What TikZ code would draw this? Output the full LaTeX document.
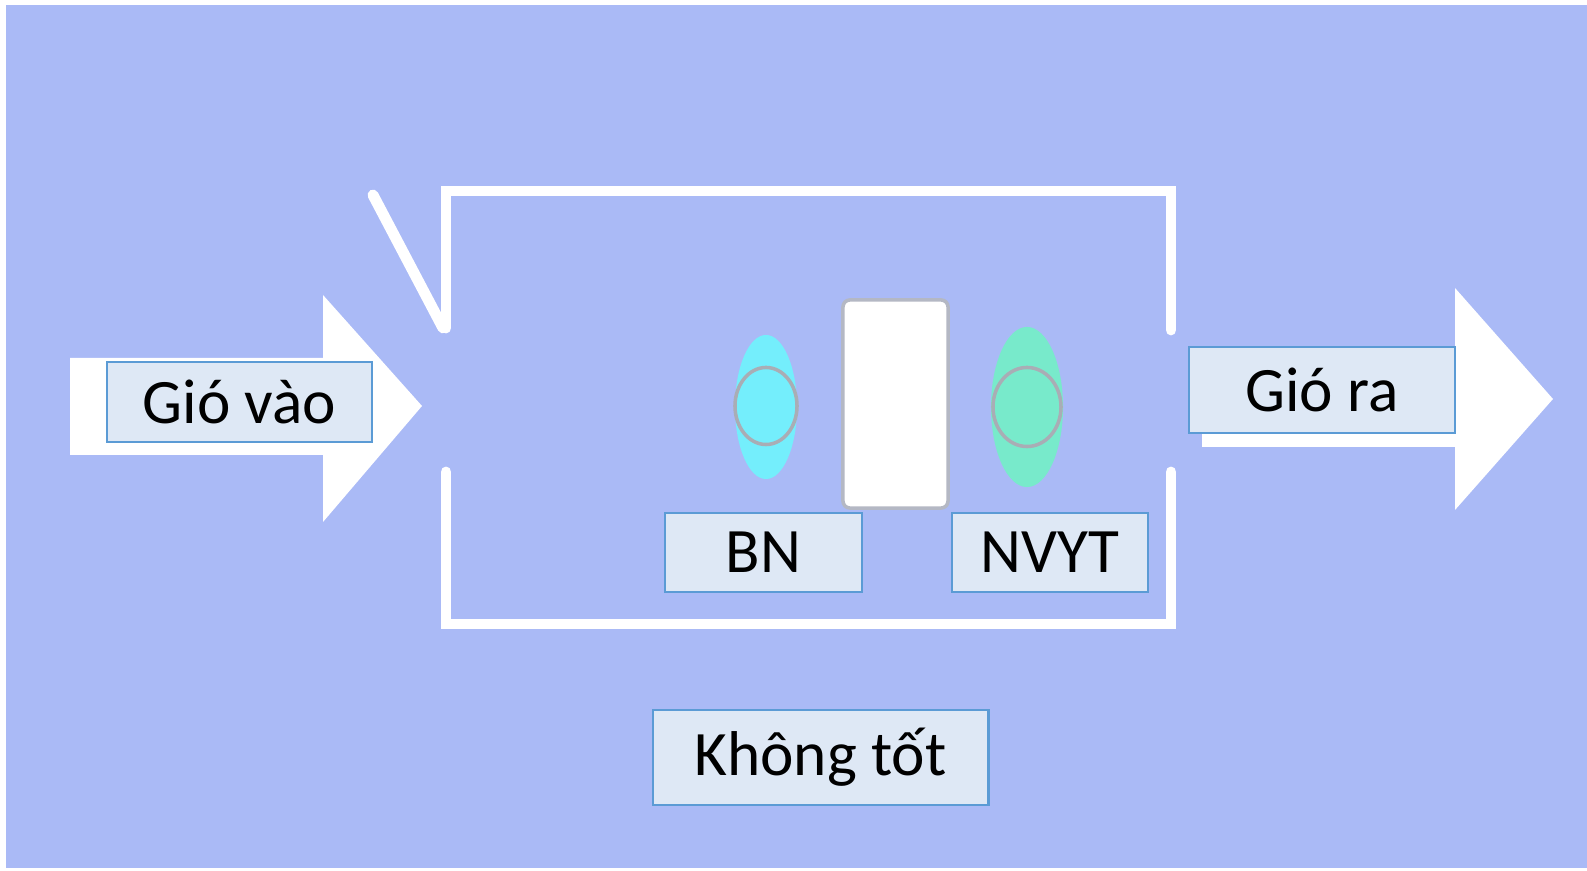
\documentclass[tikz,border=0pt]{standalone}
\usepackage{fontspec}
\setmainfont{Carlito}
\usetikzlibrary{shapes.geometric}
\definecolor{bg}{HTML}{AABAF6}
\definecolor{lblfill}{HTML}{DEE8F5}
\definecolor{lblborder}{HTML}{5B9BD5}
\definecolor{bnfill}{HTML}{74EEFC}
\definecolor{nvfill}{HTML}{78EACB}
\definecolor{headline}{HTML}{A9ADB5}
\definecolor{doorline}{HTML}{B4B8C4}
\tikzset{
  lbl/.style={draw=lblborder, fill=lblfill, line width=0.8pt, inner sep=0pt,
    font=\fontsize{18}{21}\selectfont, text=black},
  wall/.style={white, line width=3.1pt, line cap=round},
  body/.style={ellipse, inner sep=0pt, draw=none},
  head/.style={ellipse, inner sep=0pt, draw=headline, line width=1pt},
}
\begin{document}
\begin{tikzpicture}[x=0.01cm,y=-0.01cm]
\useasboundingbox (0,0) rectangle (1587,871);
\fill[white] (0,0) rectangle (1587,871);
\fill[bg] (6,5) rectangle (1587,868);
% arrows
\fill[white] (70,358) -- (323,358) -- (323,295) -- (422,406) -- (323,522) -- (323,455) -- (70,455) -- cycle;
\fill[white] (1202,349) -- (1455,349) -- (1455,288) -- (1553,399) -- (1455,510) -- (1455,447) -- (1202,447) -- cycle;
% walls
\draw[wall] (373,195) -- (443,328);
\draw[wall, line join=miter] (446,328) -- (446,191) -- (1171,191) -- (1171,330);
\draw[wall, line join=miter] (446,472) -- (446,624) -- (1171,624) -- (1171,472);
% people and door
\node[body, fill=bnfill, minimum width=0.62cm, minimum height=1.44cm] (bnbody) at (766,407) {};
\node[head, minimum width=0.62cm, minimum height=0.77cm] (bnhead) at (766,406) {};
\node[body, fill=nvfill, minimum width=0.72cm, minimum height=1.60cm] (nvbody) at (1027,407) {};
\node[head, minimum width=0.68cm, minimum height=0.79cm] (nvhead) at (1027,407) {};
\node[draw=doorline, line width=1pt, fill=white, rounded corners=2pt, minimum width=1.05cm, minimum height=2.08cm, inner sep=0pt] (door) at (895.5,404) {};
% labels
\node[lbl, minimum width=2.65cm, minimum height=0.80cm] (inlbl) at (239.5,402) {Gió vào};
\node[lbl, minimum width=2.66cm, minimum height=0.86cm] (outlbl) at (1322,390) {Gió ra};
\node[lbl, minimum width=1.97cm, minimum height=0.79cm] (bnlbl) at (763.5,552.5) {BN};
\node[lbl, minimum width=1.96cm, minimum height=0.79cm] (nvlbl) at (1050,552.5) {NVYT};
\node[lbl, minimum width=3.35cm, minimum height=0.95cm] (verdict) at (820.5,757.5) {Không tốt};
\end{tikzpicture}
\end{document}
